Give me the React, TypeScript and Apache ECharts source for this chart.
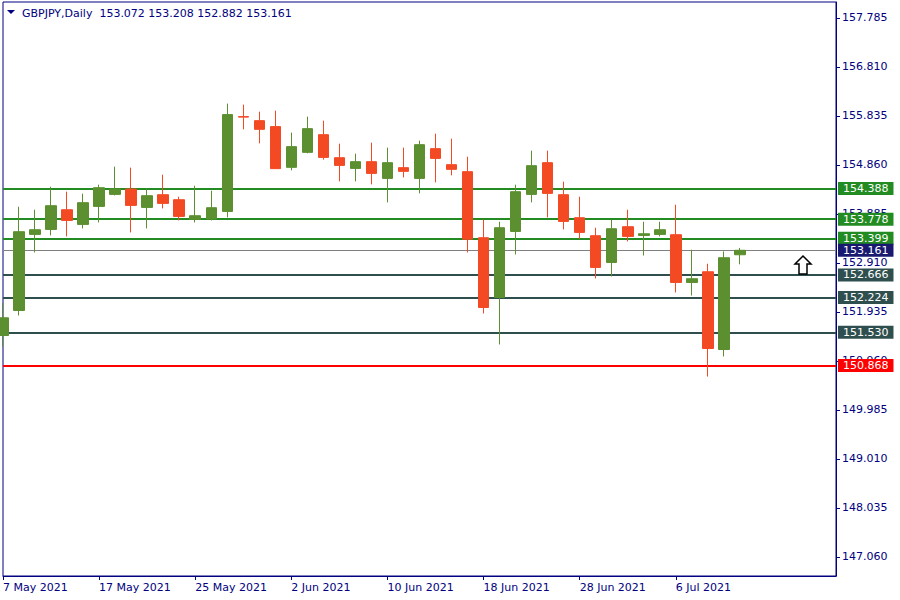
import React, { useEffect, useRef } from "react";
import * as echarts from "echarts";

const DATES: string[] = [
  "7 May 2021", "10 May 2021", "11 May 2021", "12 May 2021", "13 May 2021", "14 May 2021",
  "17 May 2021", "18 May 2021", "19 May 2021", "20 May 2021", "21 May 2021",
  "24 May 2021", "25 May 2021", "26 May 2021", "27 May 2021", "28 May 2021",
  "31 May 2021", "1 Jun 2021", "2 Jun 2021", "3 Jun 2021", "4 Jun 2021",
  "7 Jun 2021", "8 Jun 2021", "9 Jun 2021", "10 Jun 2021", "11 Jun 2021",
  "14 Jun 2021", "15 Jun 2021", "16 Jun 2021", "17 Jun 2021", "18 Jun 2021",
  "21 Jun 2021", "22 Jun 2021", "23 Jun 2021", "24 Jun 2021", "25 Jun 2021",
  "28 Jun 2021", "29 Jun 2021", "30 Jun 2021", "1 Jul 2021", "2 Jul 2021",
  "5 Jul 2021", "6 Jul 2021", "7 Jul 2021", "8 Jul 2021", "9 Jul 2021",
  "12 Jul 2021",
];

// Future (empty) slots on the right of the chart
const EMPTY_SLOTS = 6;

const OPEN: number[] = [
  151.466, 151.964, 153.477, 153.576, 153.968, 153.676, 154.034, 154.273, 154.380, 154.014,
  154.267, 154.167, 153.775, 153.783, 153.934, 155.820, 155.740, 155.621, 154.811, 155.109,
  155.461, 155.003, 154.790, 154.924, 154.591, 154.805, 154.591, 155.183, 154.864, 154.725,
  153.411, 152.222, 153.536, 154.273, 154.904, 154.267, 153.809, 153.451, 152.919, 153.630,
  153.457, 153.477, 153.471, 152.521, 152.734, 151.187, 153.072,
];
const CLOSE: number[] = [
  151.818, 153.531, 153.570, 154.048, 153.755, 154.108, 154.406, 154.380, 154.054, 154.247,
  154.094, 153.835, 153.849, 154.008, 155.860, 155.810, 155.567, 154.785, 155.223, 155.581,
  155.009, 154.850, 154.924, 154.691, 154.904, 154.731, 155.262, 154.989, 154.771, 153.381,
  152.023, 153.610, 154.327, 154.844, 154.293, 153.735, 153.517, 152.820, 153.590, 153.437,
  153.490, 153.570, 152.521, 152.595, 151.207, 153.013, 153.161,
];
const HIGH: number[] = [
  152.111, 154.028, 153.968, 154.426, 154.327, 154.287, 154.466, 154.825, 154.805, 154.386,
  154.665, 154.227, 154.446, 154.346, 156.079, 156.059, 155.919, 155.939, 155.502, 155.820,
  155.740, 155.282, 155.083, 155.302, 155.203, 155.203, 155.342, 155.481, 155.382, 155.023,
  153.769, 153.729, 154.466, 155.143, 155.143, 154.526, 154.227, 153.610, 153.769, 153.968,
  153.729, 153.729, 154.068, 153.172, 152.893, 153.138, 153.208,
];
const LOW: number[] = [
  151.247, 151.864, 153.118, 153.457, 153.437, 153.596, 153.715, 154.253, 153.517, 153.596,
  153.994, 153.755, 153.715, 153.755, 153.815, 155.567, 155.288, 154.780, 154.751, 155.089,
  154.964, 154.532, 154.532, 154.472, 154.114, 154.611, 154.293, 154.512, 154.651, 153.118,
  151.904, 151.287, 153.078, 154.114, 153.815, 153.576, 153.385, 152.601, 152.640, 153.337,
  153.058, 153.437, 152.322, 152.262, 150.649, 151.048, 152.882,
];

const Y_TICKS: number[] = [
  147.06, 148.035, 149.01, 149.985, 150.96, 151.935, 152.91, 153.885, 154.86, 155.835, 156.81, 157.785,
];

const RESISTANCE_LEVELS: number[] = [154.388, 153.778, 153.399];
const BID_LEVEL: number[] = [153.161];
const SUPPORT_LEVELS: number[] = [152.666, 152.224, 151.53];
const STOP_LEVEL: number[] = [150.868];

const SYMBOL = "GBPJPY,Daily";

const NAVY = "#000080";
const UP = "#5b8f2f";
const DOWN = "#f34a24";
const FONT = "DejaVu Sans";

function levelItem(value: number, lineColor: string, width: number, bg: string) {
  return {
    yAxis: value,
    lineStyle: { color: lineColor, width, type: "solid" },
    label: {
      show: true,
      position: "end",
      distance: 2,
      formatter: () => value.toFixed(3),
      color: "#ffffff",
      backgroundColor: bg,
      padding: [1, 5, 0, 5],
      fontFamily: FONT,
      fontSize: 11,
      lineHeight: 12,
    },
  };
}

export default function App() {
  const ref = useRef<HTMLDivElement>(null);

  useEffect(() => {
    if (!ref.current) return;
    const chart = echarts.init(ref.current, undefined, { renderer: "svg" });

    const categories = [...DATES, ...Array.from({ length: EMPTY_SLOTS }, (_, i) => "f" + i)];
    const candles = DATES.map((_, i) => [OPEN[i], CLOSE[i], LOW[i], HIGH[i]]);
    const lastIdx = DATES.length - 1;

    const markData = [
      ...RESISTANCE_LEVELS.map((v) => levelItem(v, "#228b22", 2, "#228b22")),
      ...BID_LEVEL.map((v) => levelItem(v, "#808080", 1, "#191970")),
      ...SUPPORT_LEVELS.map((v) => levelItem(v, "#2f4f4f", 2, "#2f4f4f")),
      ...STOP_LEVEL.map((v) => levelItem(v, "#ff0000", 2, "#ff0000")),
    ];

    const option: any = {
      animation: false,
      backgroundColor: "#ffffff",
      textStyle: { fontFamily: FONT },
      grid: {
        left: 2,
        right: 64,
        top: 2,
        bottom: 24,
        show: true,
        borderColor: NAVY,
        borderWidth: 1,
        backgroundColor: "transparent",
      },
      xAxis: {
        type: "category",
        data: categories,
        boundaryGap: false,
        axisLine: { show: true, lineStyle: { color: NAVY } },
        axisTick: {
          show: true,
          length: 4,
          lineStyle: { color: NAVY },
          interval: (idx: number) => idx % 6 === 0 && idx <= lastIdx,
        },
        axisLabel: {
          show: true,
          interval: (idx: number) => idx % 6 === 0 && idx <= lastIdx,
          align: "left",
          margin: 6,
          color: NAVY,
          fontFamily: FONT,
          fontSize: 11,
        },
        splitLine: { show: false },
      },
      yAxis: {
        type: "value",
        position: "right",
        min: 146.682,
        max: 158.1,
        scale: true,
        axisLine: { show: true, lineStyle: { color: NAVY } },
        axisTick: {
          show: true,
          length: 4,
          lineStyle: { color: NAVY },
          customValues: Y_TICKS,
        },
        axisLabel: {
          show: true,
          customValues: Y_TICKS,
          formatter: (v: number) => v.toFixed(3),
          color: NAVY,
          fontFamily: FONT,
          fontSize: 11,
          margin: 6,
        },
        splitLine: { show: false },
      },
      series: [
        {
          type: "candlestick",
          data: candles,
          barWidth: 11,
          clip: true,
          itemStyle: {
            color: UP,
            color0: DOWN,
            borderColor: UP,
            borderColor0: DOWN,
            borderWidth: 1,
          },
          markLine: {
            silent: true,
            symbol: ["none", "none"],
            animation: false,
            data: markData,
            z: 1,
          },
        },
      ],
      graphic: [
        {
          type: "polygon",
          shape: { points: [[7, 10], [15, 10], [11, 14]] },
          style: { fill: NAVY },
        },
        {
          type: "text",
          x: 22,
          y: 13,
          style: {
            text: `${SYMBOL}  ${OPEN[lastIdx].toFixed(3)} ${HIGH[lastIdx].toFixed(3)} ${LOW[lastIdx].toFixed(3)} ${CLOSE[lastIdx].toFixed(3)}`,
            fill: NAVY,
            font: `11px "${FONT}"`,
            verticalAlign: "middle",
          },
        },
        {
          type: "polygon",
          shape: {
            points: [
              [803, 256], [811, 264], [807, 264], [807, 274], [799, 274], [799, 264], [795, 264],
            ],
          },
          style: { fill: "#ffffff", stroke: "#000000", lineWidth: 1.5 },
          z: 100,
        },
      ],
    };

    chart.setOption(option);
    return () => chart.dispose();
  }, []);

  return (
    <div
      ref={ref}
      style={{ position: "absolute", left: 0, top: 0, width: 900, height: 600 }}
    />
  );
}
